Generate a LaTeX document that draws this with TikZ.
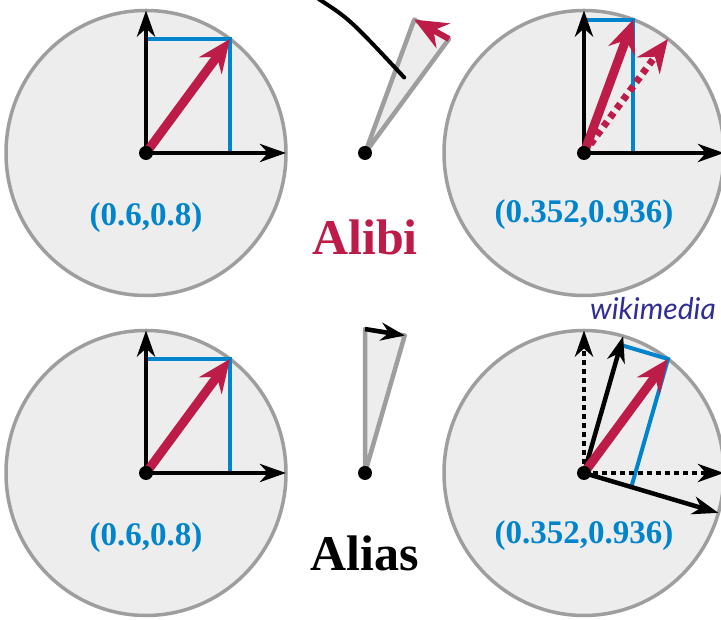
\documentclass[tikz,border=0pt]{standalone}
\usepackage{fontspec}
\setmainfont{Liberation Serif}
\newfontfamily\handfont{Lato}
\usepackage{xcolor}
\usetikzlibrary{calc, arrows.meta, positioning}

\tikzset{
    panel/.style={x=140pt, y=142.5pt},
    disc/.style={draw=discline, fill=discfill, line width=3.5pt},
    axis/.style={line width=4.5pt, -{Stealth[length=26pt, width=18pt, inset=8pt]}},
    oldaxis/.style={axis, dash pattern=on 4.5pt off 4.5pt},
    vec/.style={draw=alred, line width=9pt, -{Stealth[length=33pt, width=28pt, inset=11pt]}},
    oldvec/.style={vec, line width=7pt, dash pattern=on 6pt off 5pt},
    proj/.style={draw=alblue, line width=4pt},
    wedge/.style={draw=discline, fill=discfill, line width=4.5pt, line join=round},
    origin/.style={circle, fill=black, inner sep=0pt, minimum size=14pt},
    coordlabel/.style={text=alblue, font=\fontsize{33}{37}\selectfont\bfseries},
    bigword/.style={font=\fontsize{50}{56}\selectfont\bfseries},
}

\begin{document}
\begin{tikzpicture}[x=1pt, y=1pt]
    % Colours
    \definecolor{alred}{RGB}{190, 28, 72}
    \definecolor{alblue}{RGB}{0, 132, 204}
    \definecolor{discline}{RGB}{158, 158, 158}
    \definecolor{discfill}{RGB}{237, 237, 237}
    \definecolor{inkblue}{RGB}{48, 46, 150}
    \useasboundingbox (0,0) rectangle (721,620);

    % 1. Top left: the vector (0.6,0.8)
    \begin{scope}[shift={(146pt,467pt)}, panel]
        \coordinate (O1) at (0,0);
        \coordinate (X1) at (1,0);
        \coordinate (Y1) at (0,1);
        \coordinate (V1) at (0.6,0.8);
        \draw[disc] (O1) circle (1);
        \draw[proj] (O1 |- V1) -- (V1) -- (V1 |- O1);
        \draw[axis] (O1) -- (X1);
        \draw[axis] (O1) -- (Y1);
        \draw[vec] (O1) -- (V1);
        \node[origin] (D1) at (O1) {};
        \node[coordlabel] (L1) at (0,-0.455) {(0.6,0.8)};
    \end{scope}

    % 2. Top middle: the vector turns
    \begin{scope}[shift={(365pt,467pt)}, panel]
        \coordinate (O2) at (0,0);
        \coordinate (A2) at (0.6,0.8);
        \coordinate (B2) at (0.352,0.936);
        \draw[wedge] (O2) -- (A2) -- (B2) -- cycle;
        \draw[vec, line width=6pt] (A2) -- (B2);
        \node[origin] (D2) at (O2) {};
        \draw[line width=4pt, line cap=round] (-0.33,1.08) .. controls (-0.11,0.94) .. (0.28,0.53);
        \node[bigword, text=alred] (W1) at (0,-0.59) {Alibi};
    \end{scope}

    % 3. Top right: the turned vector (0.352,0.936)
    \begin{scope}[shift={(584pt,467pt)}, panel]
        \coordinate (O3) at (0,0);
        \coordinate (X3) at (1,0);
        \coordinate (Y3) at (0,1);
        \coordinate (U3) at (0.6,0.8);
        \coordinate (V3) at (0.352,0.936);
        \draw[disc] (O3) circle (1);
        \draw[proj] (O3 |- V3) -- (V3) -- (V3 |- O3);
        \draw[axis] (O3) -- (X3);
        \draw[axis] (O3) -- (Y3);
        \draw[oldvec] (O3) -- (U3);
        \draw[vec] (O3) -- (V3);
        \node[origin] (D3) at (O3) {};
        \node[coordlabel] (L3) at (0,-0.435) {(0.352,0.936)};
    \end{scope}

    % 4. Bottom left: the vector (0.6,0.8)
    \begin{scope}[shift={(146pt,147pt)}, panel]
        \coordinate (O4) at (0,0);
        \coordinate (X4) at (1,0);
        \coordinate (Y4) at (0,1);
        \coordinate (V4) at (0.6,0.8);
        \draw[disc] (O4) circle (1);
        \draw[proj] (O4 |- V4) -- (V4) -- (V4 |- O4);
        \draw[axis] (O4) -- (X4);
        \draw[axis] (O4) -- (Y4);
        \draw[vec] (O4) -- (V4);
        \node[origin] (D4) at (O4) {};
        \node[coordlabel] (L4) at (0,-0.45) {(0.6,0.8)};
    \end{scope}

    % 5. Bottom middle: the axes turn
    \begin{scope}[shift={(365pt,147pt)}, panel]
        \coordinate (O5) at (0,0);
        \coordinate (A5) at (0,1.01);
        \coordinate (B5) at (0.284,0.965);
        \draw[wedge] (O5) -- (A5) -- (B5) -- cycle;
        \draw[line width=4.5pt, -{Stealth[length=24pt, width=18pt, inset=8pt]}] (A5) -- (B5);
        \node[origin] (D5) at (O5) {};
        \node[bigword] (W2) at (0,-0.565) {Alias};
    \end{scope}

    % 6. Bottom right: same vector, turned axes
    \begin{scope}[shift={(584pt,147pt)}, panel]
        \coordinate (O6) at (0,0);
        \coordinate (X6) at (1,0);
        \coordinate (Y6) at (0,1);
        \coordinate (P6) at (0.960,-0.280);
        \coordinate (Q6) at (0.280,0.960);
        \coordinate (V6) at (0.6,0.8);
        \coordinate (PV6) at ($0.352*(P6)$);
        \coordinate (QV6) at ($0.936*(Q6)$);
        \draw[disc] (O6) circle (1);
        \draw[proj] (QV6) -- (V6) -- (PV6);
        \draw[oldaxis] (O6) -- (X6);
        \draw[oldaxis] (O6) -- (Y6);
        \draw[axis] (O6) -- (P6);
        \draw[axis] (O6) -- (Q6);
        \draw[vec] (O6) -- (V6);
        \node[origin] (D6) at (O6) {};
        \node[coordlabel] (L6) at (0,-0.44) {(0.352,0.936)};
    \end{scope}

    \node[text=inkblue, font=\handfont\itshape\fontsize{30}{34}\selectfont] (M1) at (653,311) {wikimedia};
\end{tikzpicture}
\end{document}
